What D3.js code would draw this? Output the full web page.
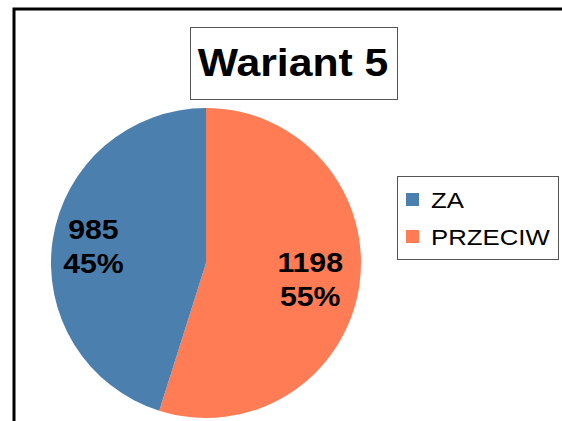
<!DOCTYPE html>
<html>
<head>
<meta charset="utf-8">
<script src="https://cdn.jsdelivr.net/npm/d3@7"></script>
<style>
  html, body { margin: 0; padding: 0; background: #fff; }
  svg { display: block; }
  text { font-family: "Liberation Sans", Arial, sans-serif; }
</style>
</head>
<body>
<script>
const title = "Wariant 5";
const categories = ["ZA", "PRZECIW"];
const values = [985, 1198];
const colors = ["#4a7fae", "#ff7c55"];

const W = 562, H = 421;
const svg = d3.select("body").append("svg").attr("width", W).attr("height", H);

// outer frame (cut off at right/bottom)
svg.append("rect").attr("x", 14).attr("y", 9).attr("width", 560).attr("height", 430)
  .attr("fill", "none").attr("stroke", "#000").attr("stroke-width", 3);

// title box
svg.append("rect").attr("x", 190.5).attr("y", 27.5).attr("width", 207).attr("height", 72)
  .attr("fill", "#fff").attr("stroke", "#555").attr("stroke-width", 1);
svg.append("text").attr("transform", "translate(293,76) scale(1.11,1)")
  .attr("text-anchor", "middle").attr("font-size", 38.5).attr("font-weight", "bold")
  .attr("fill", "#000").text(title);

// pie
const cx = 206, cy = 263, r = 155;
const total = d3.sum(values);
const pie = d3.pie().sort(null).startAngle(0).endAngle(2 * Math.PI);
// order: PRZECIW first clockwise from top, then ZA
const order = [1, 0];
const labelR = [0.735, 0.68]; // label radius fraction by category
const arcsData = pie(order.map(i => values[i]));
const arc = d3.arc().innerRadius(0).outerRadius(r);
const g = svg.append("g").attr("transform", `translate(${cx},${cy})`);
g.selectAll("path").data(arcsData).join("path")
  .attr("d", arc)
  .attr("fill", (d, j) => colors[order[j]]);

// labels
arcsData.forEach((d, j) => {
  const idx = order[j];
  const lr = r * labelR[idx];
  const c = d3.arc().innerRadius(lr).outerRadius(lr).centroid(d);
  const lx = cx + c[0], ly = cy + c[1];
  const pct = Math.round(values[idx] / total * 100) + "%";
  const lines = [String(values[idx]), pct];
  lines.forEach((t, k) => {
    svg.append("text")
      .attr("transform", `translate(${lx},${ly + (k === 0 ? -7 : 27)}) scale(1.08,1)`)
      .attr("text-anchor", "middle").attr("font-size", 28).attr("font-weight", "bold")
      .attr("fill", "#000").text(t);
  });
});

// legend
svg.append("rect").attr("x", 397.5).attr("y", 176.5).attr("width", 161).attr("height", 83)
  .attr("fill", "#fff").attr("stroke", "#555").attr("stroke-width", 1);
const lg = svg.append("g");
categories.forEach((c, i) => {
  const by = 208 + i * 37;
  lg.append("rect").attr("x", 406).attr("y", by - 15).attr("width", 13).attr("height", 13)
    .attr("fill", colors[i]);
  lg.append("text").attr("transform", `translate(431,${by}) scale(1.12,1)`)
    .attr("font-size", 23).attr("fill", "#000").text(c);
});
</script>
</body>
</html>
